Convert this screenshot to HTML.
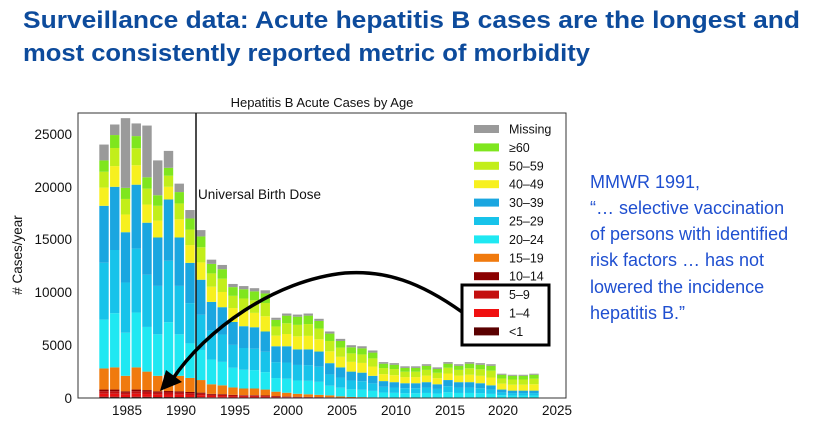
<!DOCTYPE html>
<html><head><meta charset="utf-8"><style>
html,body{margin:0;padding:0;background:#fff;}
svg{display:block;font-family:"Liberation Sans","DejaVu Sans",sans-serif;}
</style></head><body>
<svg id="s" width="825" height="425" viewBox="0 0 825 425" xmlns="http://www.w3.org/2000/svg">
<rect width="825" height="425" fill="#fff"/>
<text x="23" y="28" font-size="24" font-weight="bold" fill="#0d4b9c" textLength="777" lengthAdjust="spacingAndGlyphs">Surveillance data: Acute hepatitis B cases are the  longest and</text>
<text x="23" y="61" font-size="24" font-weight="bold" fill="#0d4b9c" textLength="567" lengthAdjust="spacingAndGlyphs">most consistently reported metric of morbidity</text>
<text x="322" y="107" font-size="13" text-anchor="middle" fill="#111">Hepatitis B Acute Cases by Age</text>
<g id="bars"></g>
<rect x="78" y="113" width="488" height="285" fill="none" stroke="#333" stroke-width="1"/>
<line x1="196" y1="113" x2="196" y2="398" stroke="#111" stroke-width="1.5"/>
<text x="198" y="199" font-size="13.5" fill="#111">Universal Birth Dose</text>
<g font-size="13.5" fill="#111" text-anchor="end">
<text x="72" y="139">25000</text><text x="72" y="192">20000</text><text x="72" y="244">15000</text>
<text x="72" y="297">10000</text><text x="72" y="350">5000</text><text x="72" y="403">0</text>
</g>
<g font-size="13.5" fill="#111" text-anchor="middle">
<text x="127" y="415">1985</text><text x="181" y="415">1990</text><text x="235" y="415">1995</text><text x="288" y="415">2000</text>
<text x="342" y="415">2005</text><text x="396" y="415">2010</text><text x="450" y="415">2015</text><text x="503" y="415">2020</text><text x="557" y="415">2025</text>
</g>
<text transform="translate(22,255) rotate(-90)" font-size="13.5" fill="#111" text-anchor="middle"># Cases/year</text>
<g id="leg" font-size="12.5" fill="#111"></g>
<rect x="462" y="285" width="87" height="60" fill="none" stroke="#000" stroke-width="3"/>
<path d="M462,312 C420,282 385,270 345,273 C275,280 205,330 172,380" fill="none" stroke="#000" stroke-width="3.5"/>
<polygon points="160,391 166,370 182,382" fill="#000"/>
<g font-size="18" fill="#1f4fd0">
<text x="590" y="188">MMWR 1991,</text>
<text x="590" y="214">“… selective vaccination</text>
<text x="590" y="240">of persons with identified</text>
<text x="590" y="266">risk factors … has not</text>
<text x="590" y="293">lowered the incidence</text>
<text x="590" y="319">hepatitis B.”</text>
</g>
</svg>
<script>
(function(){
var tot=[24000,25900,26500,26000,25800,22500,23400,20300,17800,15900,13100,12600,10800,10600,10400,10200,7600,8000,7900,8000,7500,6300,5600,5000,4900,4500,3400,3300,3000,3000,3200,2900,3400,3200,3400,3300,3200,2300,2200,2200,2300];
var miss=[1500,1000,6600,1200,4900,3300,1600,800,800,600,400,400,300,300,300,300,200,200,200,200,200,200,200,200,200,200,150,150,150,150,150,150,150,150,150,150,150,100,100,100,100];
var blue=[18200,20000,15700,20200,16600,15200,18800,15200,12800,11200,9100,8600,7200,6800,6700,6300,4900,4900,4600,4600,4400,3300,2900,2500,2400,2100,1600,1500,1400,1400,1500,1300,1700,1500,1500,1400,1200,800,700,700,700];
var orng=[2800,2900,2100,2900,2500,2100,2200,2100,1900,1700,1300,1200,1000,900,900,800,600,500,400,350,300,250,150,100,80,60,50,50,40,40,40,40,40,40,40,40,40,30,30,30,30];
var g=document.getElementById('bars'),ns='http://www.w3.org/2000/svg';
function Y(v){return 398-v*0.01056;}
function R(x,a,b,c){if(b<=a)return;var r=document.createElementNS(ns,'rect');r.setAttribute('x',x);r.setAttribute('width',9.4);r.setAttribute('y',Y(b));r.setAttribute('height',Y(a)-Y(b));r.setAttribute('fill',c);g.appendChild(r);}
for(var i=0;i<tot.length;i++){
 var x=99.3+i*10.75, red=Math.min(orng[i]*0.3,800), o=orng[i], b=blue[i], tp=tot[i]-miss[i];
 R(x,0,red*0.15,'#5a0000');R(x,red*0.15,red*0.5,'#e81010');R(x,red*0.5,red*0.8,'#c41010');R(x,red*0.8,red,'#8b0000');
 R(x,red,o,'#f07a0e');
 var d=b-o;R(x,o,o+d*0.3,'#1fe8f2');R(x,o+d*0.3,o+d*0.65,'#17c3ea');R(x,o+d*0.65,b,'#1aa6e0');
 var e=tp-b;R(x,b,b+e*0.4,'#f7f01f');R(x,b+e*0.4,b+e*0.75,'#c2ee1a');R(x,b+e*0.75,tp,'#7fe61e');
 R(x,tp,tot[i],'#9a9a9a');
}
var L=[['Missing','#9a9a9a'],['≥60','#7fe61e'],['50–59','#c2ee1a'],['40–49','#f7f01f'],['30–39','#1aa6e0'],['25–29','#17c3ea'],['20–24','#1fe8f2'],['15–19','#f07a0e'],['10–14','#8b0000'],['5–9','#c41010'],['1–4','#f01010'],['<1','#5a0000']];
var lg=document.getElementById('leg');
L.forEach(function(l,k){var y=129+k*18.4;var r=document.createElementNS(ns,'rect');r.setAttribute('x',474);r.setAttribute('y',y-4);r.setAttribute('width',25);r.setAttribute('height',8);r.setAttribute('fill',l[1]);lg.appendChild(r);
var t=document.createElementNS(ns,'text');t.setAttribute('x',509);t.setAttribute('y',y+4.5);t.textContent=l[0];lg.appendChild(t);});
})();
</script>
</body></html>
